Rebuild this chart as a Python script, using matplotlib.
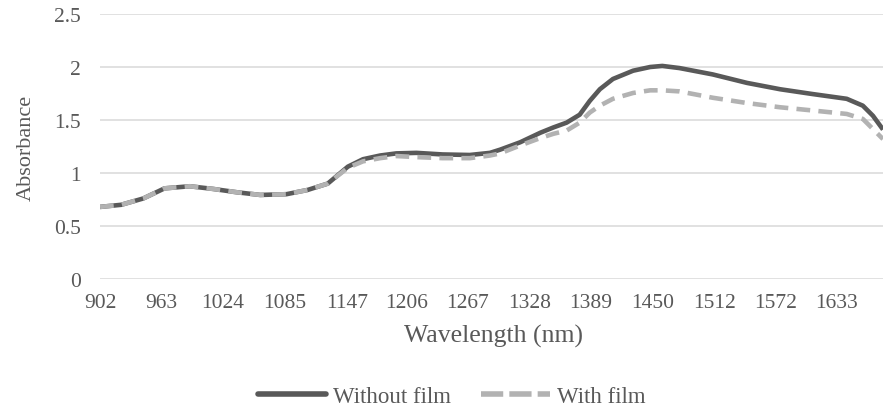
import matplotlib
matplotlib.use("Agg")
import matplotlib.pyplot as plt
from matplotlib.lines import Line2D

# wavelength (nm) and absorbance
wavelength = [902, 923, 945, 966, 991, 1014, 1038, 1061, 1087, 1108, 1128,
              1148, 1163, 1180, 1196, 1216, 1242, 1269, 1289, 1299, 1319,
              1339, 1352, 1365, 1378, 1388, 1398, 1411, 1431, 1448, 1460,
              1477, 1510, 1544, 1577, 1609, 1643, 1659, 1669, 1679]
without_film = [0.68, 0.70, 0.76, 0.855, 0.875, 0.85, 0.818, 0.793, 0.80, 0.84, 0.90,
                1.06, 1.13, 1.165, 1.185, 1.19, 1.175, 1.17, 1.19, 1.22, 1.29,
                1.38, 1.43, 1.475, 1.55, 1.68, 1.79, 1.887, 1.965, 2.0, 2.01,
                1.99, 1.93, 1.85, 1.79, 1.745, 1.70, 1.635, 1.54, 1.41]
with_film = [0.68, 0.70, 0.76, 0.855, 0.875, 0.85, 0.818, 0.793, 0.80, 0.84, 0.90,
             1.05, 1.11, 1.14, 1.16, 1.15, 1.14, 1.14, 1.165, 1.185, 1.26,
             1.33, 1.37, 1.40, 1.475, 1.57, 1.635, 1.70, 1.755, 1.78, 1.78,
             1.77, 1.71, 1.66, 1.62, 1.59, 1.557, 1.51, 1.415, 1.32]
tick_labels = [902, 963, 1024, 1085, 1147, 1206, 1267, 1328, 1389, 1450, 1512, 1572, 1633]
y_ticks = [0, 0.5, 1, 1.5, 2, 2.5]

TEXT_C = "#595959"
SOLID_C = "#595959"
DASH_C = "#b2b2b2"
plt.rcParams.update({
    "font.family": ["Liberation Serif", "DejaVu Serif"],
    "text.color": TEXT_C,
    "axes.labelcolor": TEXT_C,
    "xtick.color": TEXT_C,
    "ytick.color": TEXT_C,
})

fig = plt.figure(figsize=(8.85, 4.10), dpi=100)
ax = fig.add_axes([100 / 885, 1 - 280 / 410, 783 / 885, 265 / 410])

ax.plot(wavelength, without_film, color=SOLID_C, lw=3.3,
        solid_joinstyle="round", solid_capstyle="butt")
ax.plot(wavelength, with_film, color=DASH_C, lw=3.3,
        linestyle=(0, (3.0, 1.8)), dash_joinstyle="round")

ax.set_xlim(902, 1679)
ax.set_ylim(0, 2.5)
ax.set_xticks(tick_labels)
ax.set_xticklabels([str(t) for t in tick_labels])
ax.set_yticks(y_ticks)
ax.set_yticklabels(["0", "0.5", "1", "1.5", "2", "2.5"])
ax.tick_params(axis="both", length=0, labelsize=15.5)
ax.tick_params(axis="x", pad=10)
ax.tick_params(axis="y", pad=14)

ax.grid(axis="y", color="#d9d9d9", lw=1.1)
ax.set_axisbelow(True)
for s in ax.spines.values():
    s.set_visible(False)

ax.set_xlabel("Wavelength (nm)", fontsize=18.5)
ax.set_ylabel("Absorbance", fontsize=16)
ax.xaxis.set_label_coords(0.502, -0.17)
ax.yaxis.set_label_coords(-0.082, 0.5)

# legend keys drawn like Excel's: longer dashes than on the plotted line
handles = [
    Line2D([], [], color=SOLID_C, lw=4.0, solid_capstyle="round"),
    Line2D([], [], color=DASH_C, lw=4.0, linestyle=(0, (4.0, 1.1))),
]
fig.legend(handles, ["Without film", "With film"], loc="lower center",
           bbox_to_anchor=(0.51, -0.035), ncol=2, frameon=False,
           fontsize=16.5, handlelength=3.0, handletextpad=0.3, columnspacing=1.3,
           borderpad=0.2)

fig.savefig("out.png", dpi=100)
